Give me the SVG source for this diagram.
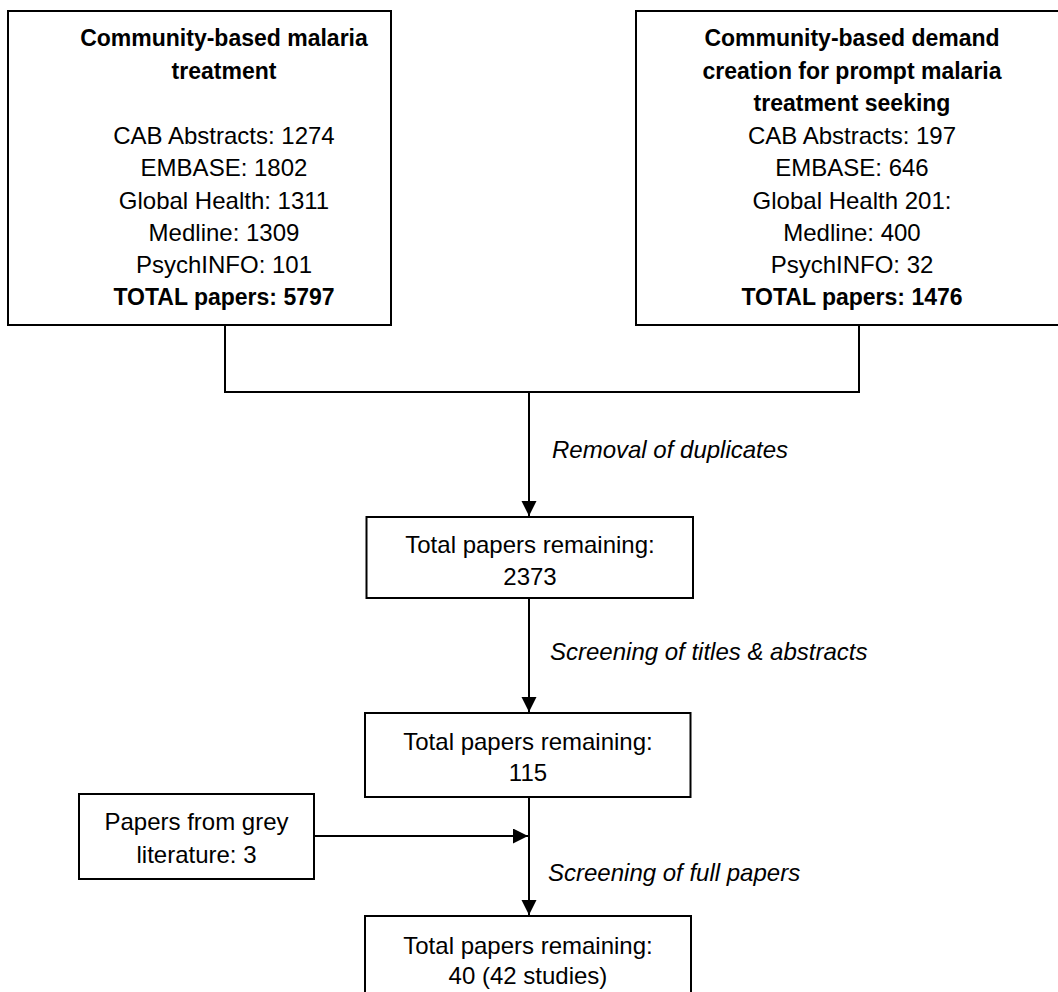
<svg xmlns="http://www.w3.org/2000/svg" width="1058" height="992" viewBox="0 0 1058 992">
<style>
  text { font-family: "Liberation Sans", Arial, sans-serif; font-size: 24px; fill: #000; text-anchor: middle; }
  .b { font-weight: bold; font-size: 23px; }
  .lbl { font-style: italic; text-anchor: start; }
  .box { fill: #fff; stroke: #000; stroke-width: 2; }
  .ln { fill: none; stroke: #000; stroke-width: 2; }
</style>
<defs>
  <marker id="arr" markerWidth="16" markerHeight="16" refX="15" refY="7.5" orient="auto" markerUnits="userSpaceOnUse">
    <path d="M0,0 L15,7.5 L0,15 Z" fill="#000"/>
  </marker>
</defs>
<rect width="1058" height="992" fill="#fff"/>

<g id="connectors">
  <path class="ln" d="M225,325 V392 H859 V325"/>
  <path class="ln" d="M529,392 V516" marker-end="url(#arr)"/>
  <path class="ln" d="M529,598 V712" marker-end="url(#arr)"/>
  <path class="ln" d="M529,797 V915" marker-end="url(#arr)"/>
  <path class="ln" d="M314,836 H528" marker-end="url(#arr)"/>
  <text class="lbl" x="552" y="458">Removal of duplicates</text>
  <text class="lbl" x="550" y="660">Screening of titles &amp; abstracts</text>
  <text class="lbl" x="548" y="881">Screening of full papers</text>
</g>

<g id="node-left">
  <rect class="box" x="8" y="11" width="383" height="314"/>
  <text class="b" x="224" y="46">Community-based malaria</text>
  <text class="b" x="224" y="79">treatment</text>
  <text x="224" y="144">CAB Abstracts: 1274</text>
  <text x="224" y="176">EMBASE: 1802</text>
  <text x="224" y="209">Global Health: 1311</text>
  <text x="224" y="241">Medline: 1309</text>
  <text x="224" y="273">PsychINFO: 101</text>
  <text class="b" x="224" y="305">TOTAL papers: 5797</text>
</g>

<g id="node-right">
  <rect class="box" x="636" y="11" width="440" height="314"/>
  <text class="b" x="852" y="46">Community-based demand</text>
  <text class="b" x="852" y="79">creation for prompt malaria</text>
  <text class="b" x="852" y="111">treatment seeking</text>
  <text x="852" y="144">CAB Abstracts: 197</text>
  <text x="852" y="176">EMBASE: 646</text>
  <text x="852" y="209">Global Health 201:</text>
  <text x="852" y="241">Medline: 400</text>
  <text x="852" y="273">PsychINFO: 32</text>
  <text class="b" x="852" y="305">TOTAL papers: 1476</text>
</g>

<g id="node-2373">
  <rect class="box" x="366.5" y="517" width="326.5" height="81"/>
  <text x="530" y="553">Total papers remaining:</text>
  <text x="530" y="585">2373</text>
</g>

<g id="node-115">
  <rect class="box" x="365" y="713" width="325.5" height="84"/>
  <text x="528" y="750">Total papers remaining:</text>
  <text x="528" y="781">115</text>
</g>

<g id="node-grey">
  <rect class="box" x="79" y="794" width="235" height="85"/>
  <text x="196.5" y="830">Papers from grey</text>
  <text x="196.5" y="863">literature: 3</text>
</g>

<g id="node-final">
  <rect class="box" x="365" y="916" width="326" height="90"/>
  <text x="528" y="954">Total papers remaining:</text>
  <text x="528" y="984">40 (42 studies)</text>
</g>
</svg>
